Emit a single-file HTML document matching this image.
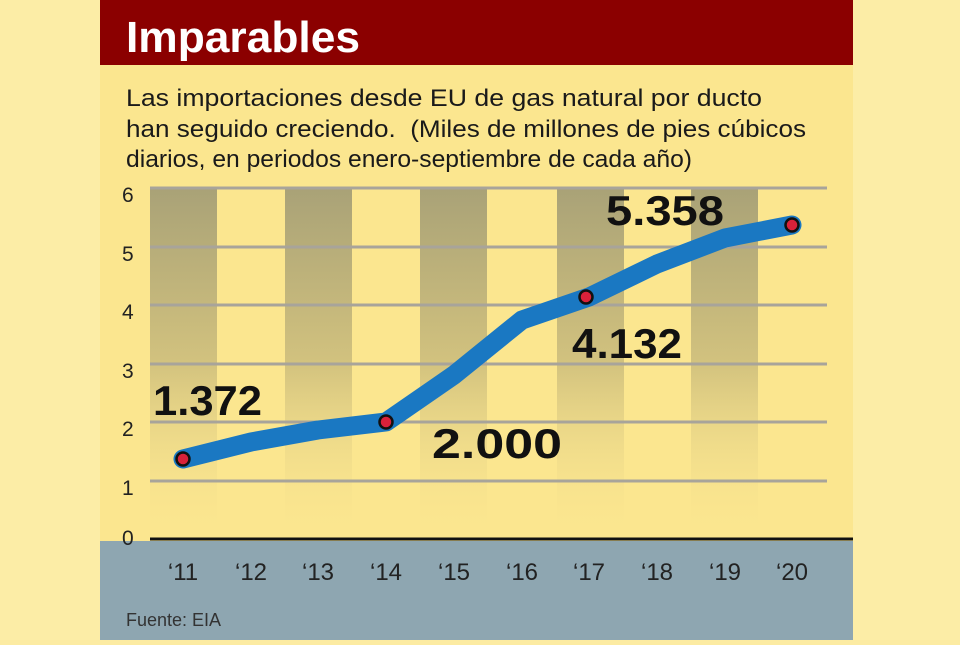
<!DOCTYPE html>
<html><head><meta charset="utf-8"><style>
body{margin:0;width:960px;height:640px;background:#fcebA2;overflow:hidden;font-family:"Liberation Sans",sans-serif}
</style></head><body>
<svg width="960" height="640" xmlns="http://www.w3.org/2000/svg">
<defs>
<linearGradient id="g" x1="0" y1="0" x2="0" y2="1">
<stop offset="0" stop-color="#a9a277"/>
<stop offset="0.5" stop-color="#d2c27e"/>
<stop offset="1" stop-color="#fbe58f" stop-opacity="0"/>
</linearGradient>
</defs>
<rect x="0" y="0" width="960" height="640" fill="#fcedA6"/>
<rect x="100" y="0" width="753" height="640" fill="#fbe68f"/>
<rect x="100" y="0" width="753" height="65" fill="#8b0000"/>
<text x="126" y="52" font-size="44" font-weight="bold" fill="#fff" textLength="234" lengthAdjust="spacingAndGlyphs">Imparables</text>
<g font-size="24" fill="#1a1a1a">
<text x="126" y="106" textLength="636" lengthAdjust="spacingAndGlyphs">Las importaciones desde EU de gas natural por ducto</text>
<text x="126" y="137" textLength="680" lengthAdjust="spacingAndGlyphs" xml:space="preserve">han seguido creciendo.  (Miles de millones de pies cúbicos</text>
<text x="126" y="167" textLength="566" lengthAdjust="spacingAndGlyphs">diarios, en periodos enero-septiembre de cada año)</text>
</g>
<g fill="url(#g)">
<rect x="150" y="188" width="67" height="350"/>
<rect x="285" y="188" width="67" height="350"/>
<rect x="420" y="188" width="67" height="350"/>
<rect x="557" y="188" width="67" height="350"/>
<rect x="691" y="188" width="67" height="350"/>
</g>
<g stroke="#a8a49a" stroke-width="3">
<line x1="150" y1="188" x2="827" y2="188"/>
<line x1="150" y1="247" x2="827" y2="247"/>
<line x1="150" y1="305" x2="827" y2="305"/>
<line x1="150" y1="364" x2="827" y2="364"/>
<line x1="150" y1="422" x2="827" y2="422"/>
<line x1="150" y1="481" x2="827" y2="481"/>
</g>
<rect x="100" y="541" width="753" height="99" fill="#8ea6b1"/>
<line x1="150" y1="539" x2="853" y2="539" stroke="#111" stroke-width="3"/>
<g font-size="21" fill="#222">
<text x="122" y="202">6</text><text x="122" y="261">5</text><text x="122" y="319">4</text>
<text x="122" y="378">3</text><text x="122" y="436">2</text><text x="122" y="495">1</text><text x="122" y="545">0</text>
</g>
<g font-size="24" fill="#222" text-anchor="middle">
<text x="183" y="580">‘11</text><text x="251" y="580">‘12</text><text x="318" y="580">‘13</text>
<text x="386" y="580">‘14</text><text x="454" y="580">‘15</text><text x="522" y="580">‘16</text>
<text x="589" y="580">‘17</text><text x="657" y="580">‘18</text><text x="725" y="580">‘19</text><text x="792" y="580">‘20</text>
</g>
<text x="126" y="626" font-size="18" fill="#333">Fuente: EIA</text>
<polyline points="183,459 251,442 318,430 386,422 454,375 522,320 589,297 657,264 725,238 792,225" fill="none" stroke="#1a78c2" stroke-width="19" stroke-linejoin="round" stroke-linecap="round"/>
<g fill="#d8213a" stroke="#111" stroke-width="2.5">
<circle cx="183" cy="459" r="6.5"/><circle cx="386" cy="422" r="6.5"/>
<circle cx="586" cy="297" r="6.5"/><circle cx="792" cy="225" r="6.5"/>
</g>
<g font-size="42" font-weight="bold" fill="#111">
<text x="153" y="415" textLength="109" lengthAdjust="spacingAndGlyphs">1.372</text>
<text x="432" y="458" textLength="130" lengthAdjust="spacingAndGlyphs">2.000</text>
<text x="572" y="358" textLength="110" lengthAdjust="spacingAndGlyphs">4.132</text>
<text x="606" y="225" textLength="118" lengthAdjust="spacingAndGlyphs">5.358</text>
</g>
</svg>
</body></html>
